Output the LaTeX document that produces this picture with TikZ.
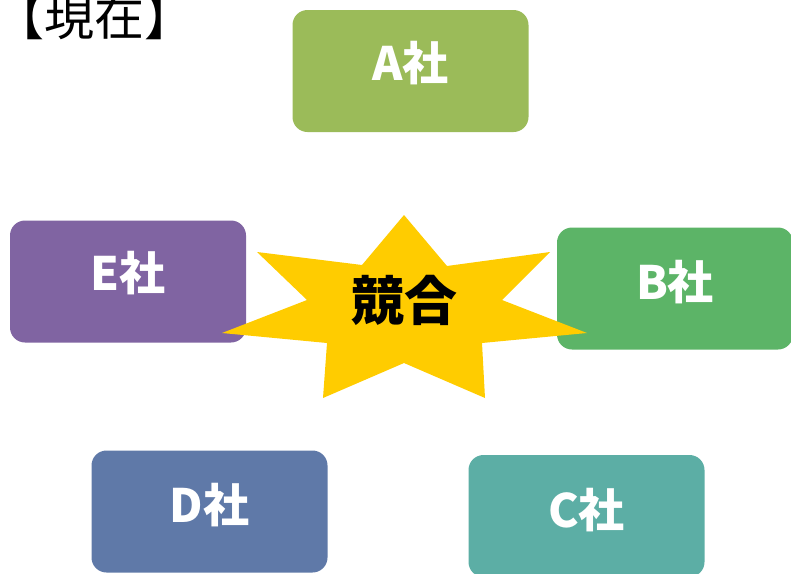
\documentclass[tikz,border=0pt]{standalone}
\usepackage{fontspec}
\newfontfamily\jp{Noto Sans CJK JP}
\definecolor{cA}{HTML}{9BBB59}
\definecolor{cB}{HTML}{5CB467}
\definecolor{cC}{HTML}{5CAEA5}
\definecolor{cD}{HTML}{5F79A8}
\definecolor{cE}{HTML}{8064A2}
\definecolor{cStar}{HTML}{FFCC00}
\begin{document}
\begin{tikzpicture}[x=1pt,y=-1pt,
  box/.style={rounded corners=15pt, minimum width=236pt, minimum height=122pt, inner sep=0pt, draw=none},
  lbl/.style={font=\jp\bfseries\fontsize{46}{46}\selectfont, text=white, inner sep=0pt},
  star/.style={fill=cStar, draw=none}]
\useasboundingbox (0,0) rectangle (791,573);
\node[box, fill=cA] (A) at (410.5,71) {};
\node[box, fill=cE] (E) at (128,281.5) {};
\node[box, fill=cB] (B) at (675,288.5) {};
\node[box, fill=cD] (D) at (209.5,511.5) {};
\node[box, fill=cC] (C) at (586.5,516) {};
\node[lbl] (tA) at ([yshift=8pt]A.center) {A社};
\node[lbl] (tE) at ([yshift=8pt]E.center) {E社};
\node[lbl] (tB) at ([yshift=6pt]B.center) {B社};
\node[lbl] (tD) at ([yshift=6pt]D.center) {D社};
\node[lbl] (tC) at ([yshift=6pt]C.center) {C社};
\fill[star] (404,215) -- (447,266) -- (550,252) -- (502,300) -- (587,333)
  -- (482,343) -- (485,398) -- (404,363) -- (323,398) -- (327,343)
  -- (222,333) -- (307,300) -- (257,252) -- (362,265) -- cycle;
\node[font=\jp\bfseries\fontsize{53}{53}\selectfont, inner sep=0pt] (K) at (404,300) {競合};
\node[font=\jp\fontsize{50}{50}\selectfont, inner sep=0pt, anchor=base west] (T) at (-6,35) {【現在】};
\end{tikzpicture}
\end{document}
